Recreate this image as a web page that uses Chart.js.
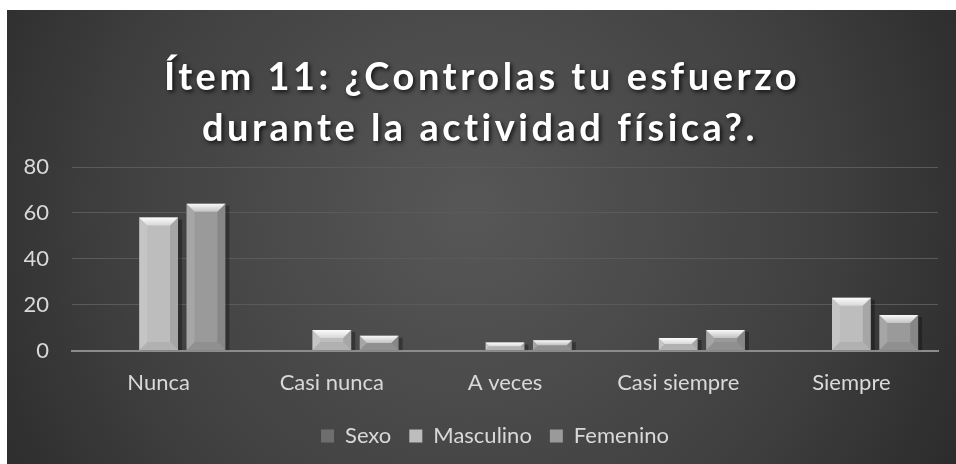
<!DOCTYPE html>
<html>
<head>
<meta charset="utf-8">
<script src="https://cdn.jsdelivr.net/npm/chart.js@4/dist/chart.umd.min.js"></script>
<style>
  html, body { margin: 0; padding: 0; background: #fff; }
  #wrap { width: 956px; height: 464px; }
</style>
</head>
<body>
<div id="wrap"><canvas id="chart" width="956" height="464"></canvas></div>
<script>
const titleLines = ["Ítem 11: ¿Controlas tu esfuerzo", "durante la actividad física?."];
const categories = ["Nunca", "Casi nunca", "A veces", "Casi siempre", "Siempre"];
const sexo = [0, 0, 0, 0, 0];
const masculino = [58, 9, 3.5, 5.5, 23];
const femenino = [64, 6.5, 4.5, 9, 15.5];
const yTicks = [0, 20, 40, 60, 80];

const FONT = "Lato, 'Open Sans', sans-serif";

// dark panel with soft radial light, white frame round it
const panelPlugin = {
    id: "panel",
    beforeDraw(chart) {
        const ctx = chart.ctx;
        ctx.save();
        ctx.fillStyle = "#ffffff";
        ctx.fillRect(0, 0, chart.width, chart.height);
        const g = ctx.createRadialGradient(470, 210, 20, 470, 210, 620);
        g.addColorStop(0, "#565656");
        g.addColorStop(0.55, "#404040");
        g.addColorStop(1, "#242424");
        ctx.fillStyle = g;
        ctx.fillRect(7, 10, chart.width - 7, chart.height - 10);
        ctx.restore();
    },
    afterLayout(chart) {
        // legend sits a little right of centre in the original
        if (chart.legend) {
            chart.legend.left += 14;
            chart.legend.right += 14;
        }
    }
};

// title with letter spacing and shadow
const titlePlugin = {
    id: "bigTitle",
    afterDraw(chart) {
        const ctx = chart.ctx;
        ctx.save();
        ctx.font = "bold 38px " + FONT;
        ctx.letterSpacing = "3.5px";
        ctx.fillStyle = "#ffffff";
        ctx.textAlign = "center";
        ctx.textBaseline = "middle";
        ctx.shadowColor = "rgba(0,0,0,0.75)";
        ctx.shadowBlur = 4;
        ctx.shadowOffsetX = 2;
        ctx.shadowOffsetY = 2;
        ctx.fillText(titleLines[0], 482, 78);
        ctx.fillText(titleLines[1], 480, 129);
        ctx.restore();
    }
};

// bevel look on each bar
const bevelPlugin = {
    id: "bevel",
    beforeDatasetsDraw(chart) {
        const ctx = chart.ctx;
        ctx.save();
        chart.data.datasets.forEach((ds, i) => {
            chart.getDatasetMeta(i).data.forEach(el => {
                const p = el.getProps(["x", "y", "width", "base"], true);
                const h = p.base - p.y;
                if (h <= 0.5) return;
                ctx.fillStyle = "rgba(0,0,0,0.3)";
                ctx.fillRect(p.x - p.width / 2 + 4, p.y + 2, p.width, h - 2);
            });
        });
        ctx.restore();
    },
    afterDatasetsDraw(chart) {
        const ctx = chart.ctx;
        ctx.save();
        chart.data.datasets.forEach((ds, i) => {
            chart.getDatasetMeta(i).data.forEach(el => {
                const p = el.getProps(["x", "y", "width", "base"], true);
                const h = p.base - p.y;
                if (h <= 0.5) return;
                const x0 = p.x - p.width / 2, x1 = p.x + p.width / 2;
                const t = p.y, b = p.base;
                const s = Math.min(8, h / 2, p.width / 2);
                // top face
                const gt = ctx.createLinearGradient(0, t, 0, t + s);
                gt.addColorStop(0, "rgba(255,255,255,0.95)");
                gt.addColorStop(1, "rgba(255,255,255,0.4)");
                ctx.fillStyle = gt;
                ctx.beginPath();
                ctx.moveTo(x0, t); ctx.lineTo(x1, t); ctx.lineTo(x1 - s, t + s); ctx.lineTo(x0 + s, t + s);
                ctx.closePath(); ctx.fill();
                // left face
                ctx.fillStyle = "rgba(255,255,255,0.12)";
                ctx.beginPath();
                ctx.moveTo(x0, t); ctx.lineTo(x0 + s, t + s); ctx.lineTo(x0 + s, b - s); ctx.lineTo(x0, b);
                ctx.closePath(); ctx.fill();
                // right face
                ctx.fillStyle = "rgba(0,0,0,0.12)";
                ctx.beginPath();
                ctx.moveTo(x1, t); ctx.lineTo(x1 - s, t + s); ctx.lineTo(x1 - s, b - s); ctx.lineTo(x1, b);
                ctx.closePath(); ctx.fill();
                // bottom face
                ctx.fillStyle = "rgba(0,0,0,0.06)";
                ctx.beginPath();
                ctx.moveTo(x0, b); ctx.lineTo(x0 + s, b - s); ctx.lineTo(x1 - s, b - s); ctx.lineTo(x1, b);
                ctx.closePath(); ctx.fill();
            });
        });
        ctx.restore();
    }
};

const ctx = document.getElementById("chart").getContext("2d");

new Chart(ctx, {
    type: "bar",
    data: {
        labels: categories,
        datasets: [
            { label: "Sexo", data: sexo, backgroundColor: "#6e6e6e" },
            { label: "Masculino", data: masculino, backgroundColor: "#bdbdbd" },
            { label: "Femenino", data: femenino, backgroundColor: "#9a9a9a" }
        ]
    },
    options: {
        responsive: false,
        animation: false,
        devicePixelRatio: 1,
        datasets: {
            bar: { categoryPercentage: 0.82, barPercentage: 0.82 }
        },
        layout: { padding: { top: 167, left: 24, right: 18, bottom: 7 } },
        scales: {
            x: {
                grid: { display: false },
                border: { color: "#8c8c8c", width: 2 },
                ticks: { color: "#d9d9d9", font: { family: FONT, size: 22 }, padding: 11 }
            },
            y: {
                min: 0,
                max: 80,
                afterBuildTicks(axis) { axis.ticks = yTicks.map(v => ({ value: v })); },
                afterFit(axis) { axis.width = 48; },
                grid: { color: "#5a5a5a", lineWidth: 1, drawTicks: false },
                border: { display: false },
                ticks: { color: "#d9d9d9", font: { family: FONT, size: 22 }, padding: 23 }
            }
        },
        plugins: {
            legend: {
                position: "bottom",
                labels: {
                    color: "#d9d9d9",
                    font: { family: FONT, size: 22 },
                    boxWidth: 13,
                    boxHeight: 13,
                    padding: 18
                }
            },
            tooltip: { enabled: false }
        }
    },
    plugins: [panelPlugin, bevelPlugin, titlePlugin]
});
</script>
</body>
</html>
